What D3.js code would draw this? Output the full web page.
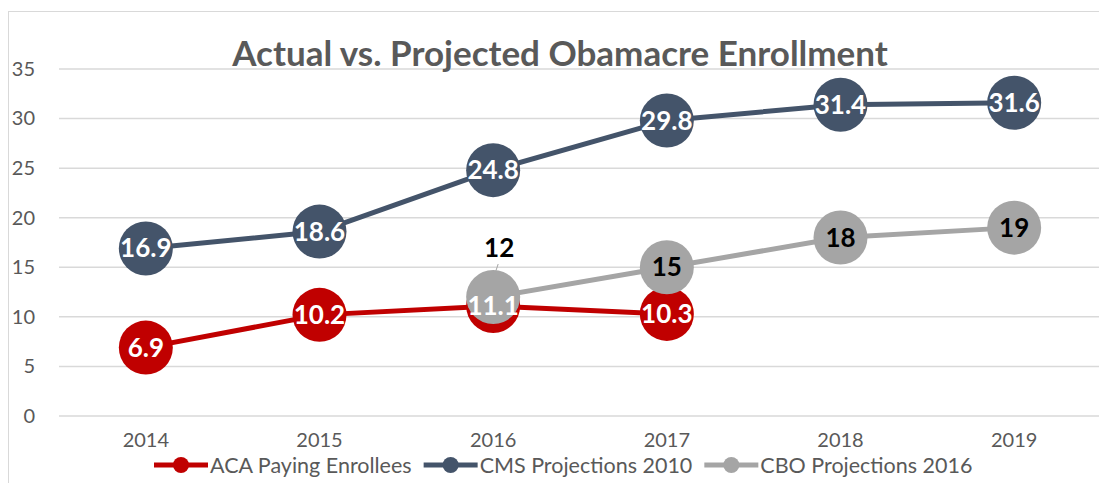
<!DOCTYPE html>
<html>
<head>
<meta charset="utf-8">
<script src="https://cdn.jsdelivr.net/npm/d3@7"></script>
<style>
  body { margin: 0; background: #fff; }
  svg { display: block; font-family: Lato, "Open Sans", sans-serif; }
</style>
</head>
<body>
<div id="chart"></div>
<script>
// chart values
const years = ['2014', '2015', '2016', '2017', '2018', '2019']
const acaPaying = [6.9, 10.2, 11.1, 10.3, null, null]
const cms2010 = [16.9, 18.6, 24.8, 29.8, 31.4, 31.6]
const cbo2016 = [null, null, 12, 15, 18, 19]
const yTicks = [0, 5, 10, 15, 20, 25, 30, 35]
const title = 'Actual vs. Projected Obamacre Enrollment'

const series = [
  {name: 'ACA Paying Enrollees', values: acaPaying, color: '#C00000', labelColor: '#fff'},
  {name: 'CMS Projections 2010', values: cms2010, color: '#44546A', labelColor: '#fff'},
  {name: 'CBO Projections 2016', values: cbo2016, color: '#A5A5A5', labelColor: '#000'}
]

const width = 1099, height = 483
const margin = {top: 69, right: 0, bottom: 67, left: 59}
const chartWidth = width - margin.left - margin.right
const chartHeight = height - margin.top - margin.bottom

const svg = d3.select('#chart').append('svg')
  .attr('width', width)
  .attr('height', height)

// outer chart border (only left/top visible in the picture)
svg.append('rect')
  .attr('x', 8.5).attr('y', 11.5)
  .attr('width', 1200).attr('height', 600)
  .attr('fill', 'none')
  .attr('stroke', '#D9D9D9')
  .attr('stroke-width', 1)

const xScale = d3.scaleBand().domain(years).range([0, 1042])
const yScale = d3.scaleLinear().domain([0, 35]).range([chartHeight, 0])

const g = svg.append('g')
  .attr('transform', 'translate(' + margin.left + ',' + margin.top + ')')

// gridlines
g.append('g').selectAll('line')
  .data(yTicks)
  .enter().append('line')
  .attr('x1', 0)
  .attr('x2', chartWidth)
  .attr('y1', d => yScale(d))
  .attr('y2', d => yScale(d))
  .attr('stroke', '#D9D9D9')
  .attr('stroke-width', 1.5)

// y axis labels
const yAxis = g.append('g')
  .call(d3.axisLeft(yScale).tickValues(yTicks).tickSize(0).tickPadding(24))
yAxis.select('.domain').remove()
yAxis.selectAll('text')
  .attr('fill', '#595959')
  .style('font-size', '20px')
  .style('font-family', 'Lato, sans-serif')

// x axis labels
const xAxis = g.append('g')
  .attr('transform', 'translate(0,' + chartHeight + ')')
  .call(d3.axisBottom(xScale).tickSize(0).tickPadding(17))
xAxis.select('.domain').remove()
xAxis.selectAll('text')
  .attr('fill', '#595959')
  .style('font-size', '20px')
  .style('font-family', 'Lato, sans-serif')

const cx = d => xScale(d) + xScale.bandwidth() / 2

const line = d3.line()
  .defined(d => d.v != null)
  .x(d => cx(d.year))
  .y(d => yScale(d.v))

series.forEach(function(s){
  const pts = years.map((y, i) => ({year: y, v: s.values[i]}))
  g.append('path')
    .datum(pts)
    .attr('d', line)
    .attr('fill', 'none')
    .attr('stroke', s.color)
    .attr('stroke-width', 5)
    .attr('stroke-linejoin', 'round')
  g.append('g').selectAll('circle')
    .data(pts.filter(d => d.v != null))
    .enter().append('circle')
    .attr('cx', d => cx(d.year))
    .attr('cy', d => yScale(d.v))
    .attr('r', 27)
    .attr('fill', s.color)
  s.pts = pts
})

// data labels on top of all markers
series.forEach(function(s){
  g.append('g').selectAll('text')
    .data(s.pts.filter(d => d.v != null))
    .enter().append('text')
    .attr('x', function(d){
      if (s.name === 'CBO Projections 2016' && d.year === '2016') return cx(d.year) + 6
      return cx(d.year)
    })
    .attr('y', function(d){
      if (s.name === 'CBO Projections 2016' && d.year === '2016') return yScale(d.v) - 40
      return yScale(d.v) + 9
    })
    .attr('text-anchor', 'middle')
    .attr('fill', s.labelColor)
    .style('font-size', '26px')
    .style('font-weight', 'bold')
    .text(d => d.v)
})

// leader line for the moved "12" label
g.append('line')
  .attr('x1', cx('2016') + 5).attr('y1', yScale(12) - 33)
  .attr('x2', cx('2016') + 2).attr('y2', yScale(12) - 24)
  .attr('stroke', '#A5A5A5')
  .attr('stroke-width', 1)

// title
svg.append('text')
  .attr('x', 560)
  .attr('y', 66)
  .attr('text-anchor', 'middle')
  .attr('fill', '#595959')
  .style('font-size', '35px')
  .style('font-weight', 'bold')
  .text(title)

// legend
const legend = svg.append('g').attr('transform', 'translate(0,465)')
let lx = 154
series.forEach(function(s){
  const item = legend.append('g').attr('transform', 'translate(' + lx + ',0)')
  item.append('line')
    .attr('x1', 0).attr('x2', 54)
    .attr('y1', 0).attr('y2', 0)
    .attr('stroke', s.color)
    .attr('stroke-width', 5)
  item.append('circle')
    .attr('cx', 27).attr('cy', 0).attr('r', 8)
    .attr('fill', s.color)
  const t = item.append('text')
    .attr('x', 56).attr('y', 8)
    .attr('fill', '#595959')
    .style('font-size', '21.5px')
    .text(s.name)
  lx += 56 + t.node().getComputedTextLength() + 12
})
</script>
</body>
</html>
